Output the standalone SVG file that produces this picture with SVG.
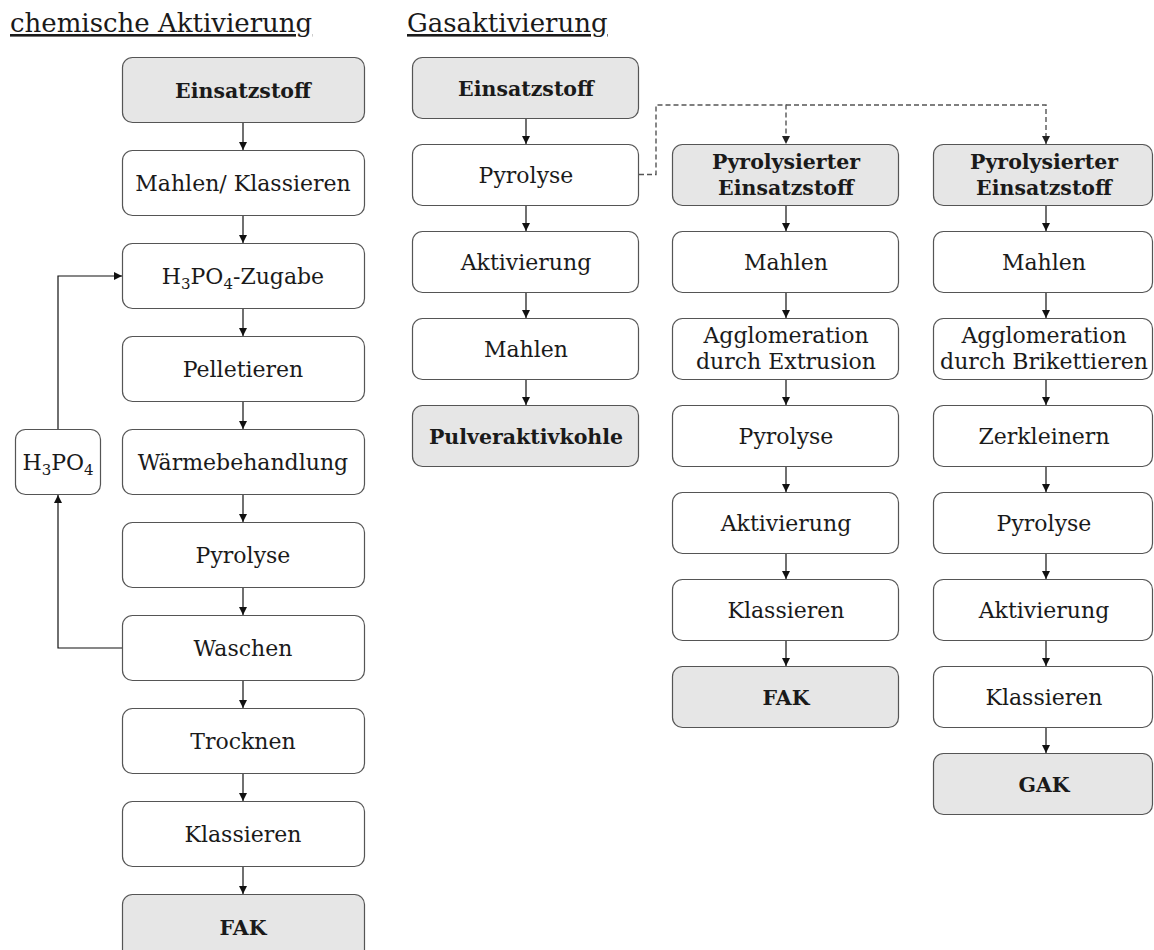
<svg xmlns="http://www.w3.org/2000/svg" width="1154" height="950" viewBox="0 0 1154 950">
<style>
.b{fill:#fff;stroke:#555;stroke-width:1.2}
.g{fill:#e6e6e6;stroke:#555;stroke-width:1.2}
.t{font-family:"DejaVu Serif","Liberation Serif",serif;font-size:22px;fill:#1a1a1a;text-anchor:middle}
.tb{font-family:"DejaVu Serif","Liberation Serif",serif;font-size:20.5px;font-weight:bold;fill:#1a1a1a;text-anchor:middle}
.h{font-family:"DejaVu Serif","Liberation Serif",serif;font-size:26px;fill:#1a1a1a;text-decoration:underline}
.c{fill:none;stroke:#111;stroke-width:1.2}
.d{fill:none;stroke:#555;stroke-width:1.4;stroke-dasharray:5 3}
.s{font-size:15px}
</style>
<defs>
<marker id="a" viewBox="0 0 10 10" refX="10" refY="5" markerWidth="8" markerHeight="8" markerUnits="userSpaceOnUse" orient="auto"><path d="M0,0L10,5L0,10z" fill="#111"/></marker>
<marker id="ad" viewBox="0 0 10 10" refX="10" refY="5" markerWidth="8" markerHeight="8" markerUnits="userSpaceOnUse" orient="auto"><path d="M0,0L10,5L0,10z" fill="#222"/></marker>
</defs>
<text class="h" x="10" y="32">chemische Aktivierung</text>
<text class="h" x="407" y="32">Gasaktivierung</text>

<g id="connectors">
<path class="c" marker-end="url(#a)" d="M243,123V150"/>
<path class="c" marker-end="url(#a)" d="M243,216V243"/>
<path class="c" marker-end="url(#a)" d="M243,309V336"/>
<path class="c" marker-end="url(#a)" d="M243,402V429"/>
<path class="c" marker-end="url(#a)" d="M243,495V522"/>
<path class="c" marker-end="url(#a)" d="M243,588V615"/>
<path class="c" marker-end="url(#a)" d="M243,681V708"/>
<path class="c" marker-end="url(#a)" d="M243,774V801"/>
<path class="c" marker-end="url(#a)" d="M243,867V894"/>
<path class="c" marker-end="url(#a)" d="M58,429V276H122"/>
<path class="c" marker-end="url(#a)" d="M122,648H58V495"/>
<path class="c" marker-end="url(#a)" d="M526,118V144"/>
<path class="c" marker-end="url(#a)" d="M526,205V231"/>
<path class="c" marker-end="url(#a)" d="M526,292V318"/>
<path class="c" marker-end="url(#a)" d="M526,379V405"/>
<path class="d" marker-end="url(#ad)" d="M639,174.5H656V105H786V144"/>
<path class="d" marker-end="url(#ad)" d="M786,105H1046V144"/>
<path class="c" marker-end="url(#a)" d="M786,205V231"/>
<path class="c" marker-end="url(#a)" d="M786,292V318"/>
<path class="c" marker-end="url(#a)" d="M786,379V405"/>
<path class="c" marker-end="url(#a)" d="M786,466V492"/>
<path class="c" marker-end="url(#a)" d="M786,553V579"/>
<path class="c" marker-end="url(#a)" d="M786,640V666"/>
<path class="c" marker-end="url(#a)" d="M1046,205V231"/>
<path class="c" marker-end="url(#a)" d="M1046,292V318"/>
<path class="c" marker-end="url(#a)" d="M1046,379V405"/>
<path class="c" marker-end="url(#a)" d="M1046,466V492"/>
<path class="c" marker-end="url(#a)" d="M1046,553V579"/>
<path class="c" marker-end="url(#a)" d="M1046,640V666"/>
<path class="c" marker-end="url(#a)" d="M1046,727V753"/>
</g>

<g id="c1"><rect class="g" x="122.5" y="57.5" width="242" height="65" rx="10"/><text class="tb" x="243" y="98">Einsatzstoff</text></g>
<g id="c2"><rect class="b" x="122.5" y="150.5" width="242" height="65" rx="10"/><text class="t" x="243" y="191">Mahlen/ Klassieren</text></g>
<g id="c3"><rect class="b" x="122.5" y="243.5" width="242" height="65" rx="10"/><text class="t" x="243" y="284">H<tspan class="s" dy="5">3</tspan><tspan dy="-5">PO</tspan><tspan class="s" dy="5">4</tspan><tspan dy="-5">-Zugabe</tspan></text></g>
<g id="c4"><rect class="b" x="122.5" y="336.5" width="242" height="65" rx="10"/><text class="t" x="243" y="377">Pelletieren</text></g>
<g id="c5"><rect class="b" x="122.5" y="429.5" width="242" height="65" rx="10"/><text class="t" x="243" y="470">Wärmebehandlung</text></g>
<g id="c6"><rect class="b" x="122.5" y="522.5" width="242" height="65" rx="10"/><text class="t" x="243" y="563">Pyrolyse</text></g>
<g id="c7"><rect class="b" x="122.5" y="615.5" width="242" height="65" rx="10"/><text class="t" x="243" y="656">Waschen</text></g>
<g id="c8"><rect class="b" x="122.5" y="708.5" width="242" height="65" rx="10"/><text class="t" x="243" y="749">Trocknen</text></g>
<g id="c9"><rect class="b" x="122.5" y="801.5" width="242" height="65" rx="10"/><text class="t" x="243" y="842">Klassieren</text></g>
<g id="c10"><rect class="g" x="122.5" y="894.5" width="242" height="65" rx="10"/><text class="tb" x="243" y="935">FAK</text></g>
<g id="h3po4"><rect class="b" x="15.5" y="429.5" width="85" height="65" rx="10"/><text class="t" x="58" y="470">H<tspan class="s" dy="5">3</tspan><tspan dy="-5">PO</tspan><tspan class="s" dy="5">4</tspan></text></g>

<g id="g1"><rect class="g" x="412.5" y="57.5" width="226" height="61" rx="10"/><text class="tb" x="526" y="95.5">Einsatzstoff</text></g>
<g id="g2"><rect class="b" x="412.5" y="144.5" width="226" height="61" rx="10"/><text class="t" x="526" y="182.5">Pyrolyse</text></g>
<g id="g3"><rect class="b" x="412.5" y="231.5" width="226" height="61" rx="10"/><text class="t" x="526" y="269.5">Aktivierung</text></g>
<g id="g4"><rect class="b" x="412.5" y="318.5" width="226" height="61" rx="10"/><text class="t" x="526" y="356.5">Mahlen</text></g>
<g id="g5"><rect class="g" x="412.5" y="405.5" width="226" height="61" rx="10"/><text class="tb" x="526" y="443.5">Pulveraktivkohle</text></g>

<g id="e1"><rect class="g" x="672.5" y="144.5" width="226" height="61" rx="10"/><text class="tb" x="786" y="169">Pyrolysierter</text><text class="tb" x="786" y="195">Einsatzstoff</text></g>
<g id="e2"><rect class="b" x="672.5" y="231.5" width="226" height="61" rx="10"/><text class="t" x="786" y="269.5">Mahlen</text></g>
<g id="e3"><rect class="b" x="672.5" y="318.5" width="226" height="61" rx="10"/><text class="t" x="786" y="343">Agglomeration</text><text class="t" x="786" y="369">durch Extrusion</text></g>
<g id="e4"><rect class="b" x="672.5" y="405.5" width="226" height="61" rx="10"/><text class="t" x="786" y="443.5">Pyrolyse</text></g>
<g id="e5"><rect class="b" x="672.5" y="492.5" width="226" height="61" rx="10"/><text class="t" x="786" y="530.5">Aktivierung</text></g>
<g id="e6"><rect class="b" x="672.5" y="579.5" width="226" height="61" rx="10"/><text class="t" x="786" y="617.5">Klassieren</text></g>
<g id="e7"><rect class="g" x="672.5" y="666.5" width="226" height="61" rx="10"/><text class="tb" x="786" y="704.5">FAK</text></g>

<g id="b1"><rect class="g" x="933.5" y="144.5" width="219" height="61" rx="10"/><text class="tb" x="1044" y="169">Pyrolysierter</text><text class="tb" x="1044" y="195">Einsatzstoff</text></g>
<g id="b2"><rect class="b" x="933.5" y="231.5" width="219" height="61" rx="10"/><text class="t" x="1044" y="269.5">Mahlen</text></g>
<g id="b3"><rect class="b" x="933.5" y="318.5" width="219" height="61" rx="10"/><text class="t" x="1044" y="343">Agglomeration</text><text class="t" x="1044" y="369">durch Brikettieren</text></g>
<g id="b4"><rect class="b" x="933.5" y="405.5" width="219" height="61" rx="10"/><text class="t" x="1044" y="443.5">Zerkleinern</text></g>
<g id="b5"><rect class="b" x="933.5" y="492.5" width="219" height="61" rx="10"/><text class="t" x="1044" y="530.5">Pyrolyse</text></g>
<g id="b6"><rect class="b" x="933.5" y="579.5" width="219" height="61" rx="10"/><text class="t" x="1044" y="617.5">Aktivierung</text></g>
<g id="b7"><rect class="b" x="933.5" y="666.5" width="219" height="61" rx="10"/><text class="t" x="1044" y="704.5">Klassieren</text></g>
<g id="b8"><rect class="g" x="933.5" y="753.5" width="219" height="61" rx="10"/><text class="tb" x="1044" y="791.5">GAK</text></g>
</svg>
